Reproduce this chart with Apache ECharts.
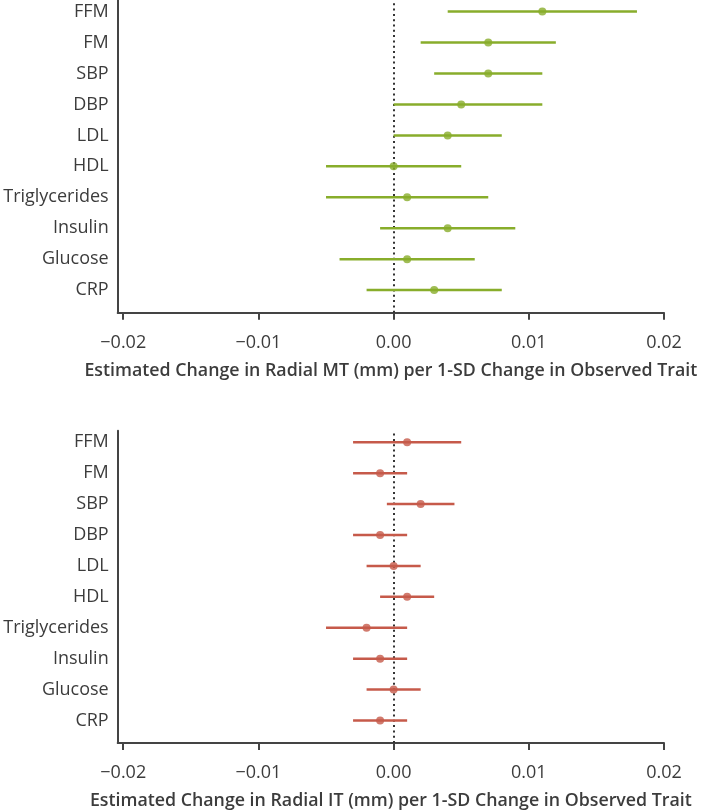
<!DOCTYPE html>
<html>
<head>
<meta charset="utf-8">
<script src="https://cdn.jsdelivr.net/npm/echarts@6/dist/echarts.min.js"></script>
<style>
html,body{margin:0;padding:0;background:#fff;}
#chart{width:701px;height:811px;}
</style>
</head>
<body>
<div id="chart"></div>
<script>
// Categories, top to bottom
const traits = ['FFM','FM','SBP','DBP','LDL','HDL','Triglycerides','Insulin','Glucose','CRP'];
const xTicks = [-0.02, -0.01, 0, 0.01, 0.02];

// Radial MT (top panel)
const mtEst  = [0.011, 0.007, 0.007, 0.005, 0.004, 0.000, 0.001, 0.004, 0.001, 0.003];
const mtLow  = [0.004, 0.002, 0.003, 0.000, 0.000, -0.005, -0.005, -0.001, -0.004, -0.002];
const mtHigh = [0.018, 0.012, 0.011, 0.011, 0.008, 0.005, 0.007, 0.009, 0.006, 0.008];

// Radial IT (bottom panel)
const itEst  = [0.001, -0.001, 0.002, -0.001, 0.000, 0.001, -0.002, -0.001, 0.000, -0.001];
const itLow  = [-0.003, -0.003, -0.0005, -0.003, -0.002, -0.001, -0.005, -0.003, -0.002, -0.003];
const itHigh = [0.005, 0.001, 0.0045, 0.001, 0.002, 0.003, 0.001, 0.001, 0.002, 0.001];

const titles = [
  'Estimated Change in Radial MT (mm) per 1-SD Change in Observed Trait',
  'Estimated Change in Radial IT (mm) per 1-SD Change in Observed Trait'
];

const GREEN = '#88ad2b';
const RED = '#c65a4a';
const AXIS = '#444444';
const TEXT = '#3c3c3c';
const FONT = "'Open Sans', 'Noto Sans', sans-serif";

const n = traits.length;
const rowVal = i => n - i;

function fmtX(v){
  if (Math.abs(v) < 1e-9) return '0.00';
  return (v < 0 ? '\u2212' : '') + Math.abs(v).toFixed(2);
}

function makeX(idx){
  return {
    gridIndex: idx, type: 'value', min: -0.02041, max: 0.02,
    axisLine: {show: true, lineStyle: {color: AXIS, width: 2}},
    axisTick: {show: true, customValues: xTicks, length: 7, lineStyle: {color: AXIS, width: 2}},
    axisLabel: {customValues: xTicks, formatter: fmtX, color: TEXT, fontSize: 18, fontFamily: FONT, margin: 21},
    splitLine: {show: false},
    name: titles[idx], nameLocation: 'middle', nameGap: 49,
    nameTextStyle: {color: TEXT, fontSize: 17.8, fontWeight: 600, fontFamily: FONT}
  };
}
function makeY(idx){
  const vals = traits.map((t,i)=>rowVal(i));
  return {
    gridIndex: idx, type: 'value', min: 0.27, max: 10.375,
    axisLine: {show: true, onZero: false, lineStyle: {color: AXIS, width: 2}},
    axisTick: {show: false},
    axisLabel: {customValues: vals, formatter: v => traits[n - Math.round(v)] || '', color: TEXT, fontSize: 18, fontFamily: FONT, margin: 9},
    splitLine: {show: false}
  };
}

function ciSeries(idx, lo, hi, color){
  return {
    type: 'custom', xAxisIndex: idx, yAxisIndex: idx, clip: false,
    data: traits.map((t,i)=>[lo[i], hi[i], rowVal(i)]),
    encode: {x: [0,1], y: 2},
    renderItem: function(params, api){
      const y = api.value(2);
      const a = api.coord([api.value(0), y]);
      const b = api.coord([api.value(1), y]);
      return {type: 'line', shape: {x1: a[0], y1: a[1], x2: b[0], y2: b[1]},
        style: {stroke: color, lineWidth: 2.5}};
    },
    z: 3
  };
}
function ptSeries(idx, est, color){
  return {
    type: 'scatter', xAxisIndex: idx, yAxisIndex: idx,
    data: traits.map((t,i)=>[est[i], rowVal(i)]),
    symbol: 'circle', symbolSize: 8, itemStyle: {color: color},
    z: 4,
    markLine: {
      silent: true, symbol: 'none', label: {show: false},
      lineStyle: {color: '#333', width: 2, type: [2, 3.3]},
      data: [{xAxis: 0}],
      z: 2
    }
  };
}

const chart = echarts.init(document.getElementById('chart'), null, {renderer: 'canvas'});
chart.setOption({
  animation: false,
  backgroundColor: '#ffffff',
  grid: [
    {left: 117.7, right: 37, top: -0.3, height: 313},
    {left: 117.7, right: 37, top: 430.7, height: 312.6}
  ],
  xAxis: [makeX(0), makeX(1)],
  yAxis: [makeY(0), makeY(1)],
  series: [
    ciSeries(0, mtLow, mtHigh, GREEN),
    ptSeries(0, mtEst, GREEN),
    ciSeries(1, itLow, itHigh, RED),
    ptSeries(1, itEst, RED)
  ]
});
</script>
</body>
</html>
